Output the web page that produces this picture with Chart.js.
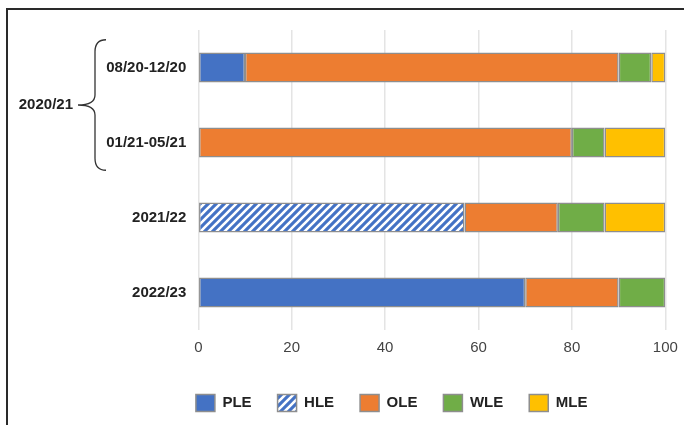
<!DOCTYPE html>
<html>
<head>
<meta charset="utf-8">
<script src="https://cdn.jsdelivr.net/npm/chart.js@4.4.1/dist/chart.umd.min.js"></script>
<style>
  html, body { margin: 0; padding: 0; background: #ffffff; }
  #wrap { position: relative; width: 684px; height: 425px; overflow: hidden; }
  #frame { position: absolute; left: 6px; top: 8px; width: 800px; height: 600px;
           border-top: 2px solid #2a2a2a; border-left: 2px solid #2a2a2a; }
  #c { position: absolute; left: 0; top: 0; }
</style>
</head>
<body>
<div id="wrap">
  <div id="frame"></div>
  <canvas id="c" width="684" height="425"></canvas>
</div>
<script>
// ---- data ----
const categories = ["08/20-12/20", "01/21-05/21", "2021/22", "2022/23"];
const groupLabel = "2020/21";          // spans the first two categories
const groupSpan = [0, 1];
const seriesNames = ["PLE", "HLE", "OLE", "WLE", "MLE"];
const PLE = [10, null, null, 70];
const HLE = [null, null, 57, null];
const OLE = [80, 80, 20, 20];
const WLE = [7, 7, 10, 10];
const MLE = [3, 13, 13, null];
const xTicks = [0, 20, 40, 60, 80, 100];

// ---- styles ----
const FONT = "'Liberation Sans', Arial, sans-serif";
const BORDER = '#8e8e8e';

function hatchPattern() {
  const t = document.createElement('canvas');
  t.width = 8; t.height = 8;
  const g = t.getContext('2d');
  g.fillStyle = '#4472C4';
  g.fillRect(0, 0, 8, 8);
  g.strokeStyle = '#ffffff';
  g.lineWidth = 2.6;
  g.beginPath();
  g.moveTo(-1, 1); g.lineTo(1, -1);
  g.moveTo(0, 8); g.lineTo(8, 0);
  g.moveTo(7, 9); g.lineTo(9, 7);
  g.stroke();
  return document.getElementById('c').getContext('2d').createPattern(t, 'repeat');
}

const colors = ['#4472C4', hatchPattern(), '#ED7D31', '#70AD47', '#FFC000'];
const values = [PLE, HLE, OLE, WLE, MLE];

const datasets = seriesNames.map((n, i) => ({
  label: n,
  data: values[i],
  backgroundColor: colors[i],
  borderColor: BORDER,
  borderWidth: 1.5,
  borderSkipped: false,
  barPercentage: 0.8,
  categoryPercentage: 0.5
}));

const bracePlugin = {
  id: 'brace',
  afterDraw(chart) {
    const y = chart.scales.y;
    const ctx = chart.ctx;
    const ya = y.getPixelForValue(groupSpan[0]);
    const yb = y.getPixelForValue(groupSpan[1]);
    const yc = (ya + yb) / 2;
    const half = (yb - ya) * 0.87;
    const top = yc - half, bot = yc + half;
    const endX = 106, stemX = 95, tipX = 78;
    ctx.save();
    ctx.strokeStyle = '#333333';
    ctx.lineWidth = 1.3;
    ctx.beginPath();
    ctx.moveTo(endX, top);
    ctx.quadraticCurveTo(stemX, top, stemX, top + 12);
    ctx.lineTo(stemX, yc - 10);
    ctx.quadraticCurveTo(stemX, yc, tipX, yc);
    ctx.quadraticCurveTo(stemX, yc, stemX, yc + 10);
    ctx.lineTo(stemX, bot - 12);
    ctx.quadraticCurveTo(stemX, bot, endX, bot);
    ctx.stroke();
    ctx.fillStyle = '#222222';
    ctx.font = 'bold 15px ' + FONT;
    ctx.textAlign = 'right';
    ctx.textBaseline = 'middle';
    ctx.fillText(groupLabel, 73, yc);
    ctx.restore();
  }
};

// shift the legend row to the right, as in the original layout
const legendShift = {
  id: 'legendShift',
  afterLayout(chart) {
    if (chart.legend) { chart.legend.left += 59; chart.legend.right += 59; }
  }
};

new Chart(document.getElementById('c'), {
  type: 'bar',
  data: { labels: categories, datasets },
  plugins: [bracePlugin, legendShift],
  options: {
    indexAxis: 'y',
    responsive: false,
    animation: false,
    devicePixelRatio: 1,
    layout: { padding: { top: 30, right: 18.7, left: 0, bottom: 3.5 } },
    scales: {
      x: {
        stacked: true,
        min: 0, max: 100,
        afterBuildTicks(s) { s.ticks = xTicks.map(v => ({ value: v })); },
        afterFit(s) { s.height = 38.5; s.paddingLeft = 0; s.paddingRight = 0; },
        grid: { color: '#e4e4e4', lineWidth: 1.5, drawTicks: false },
        border: { display: false },
        ticks: { padding: 9, color: '#444444', font: { family: FONT, size: 15 } }
      },
      y: {
        stacked: true,
        afterFit(s) { s.width = 198.3; },
        grid: { display: false, drawTicks: false },
        border: { display: false },
        ticks: { padding: 12, color: '#222222', font: { family: FONT, size: 15, weight: 'bold' } }
      }
    },
    plugins: {
      tooltip: { enabled: false },
      legend: {
        position: 'bottom',
        labels: {
          boxWidth: 19, boxHeight: 17, padding: 26,
          color: '#222222',
          font: { family: FONT, size: 15, weight: 'bold' }
        }
      }
    }
  }
});
</script>
</body>
</html>
